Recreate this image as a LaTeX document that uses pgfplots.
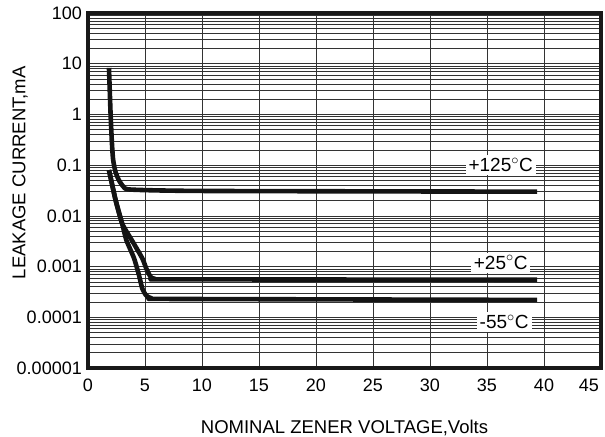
\documentclass[border=0pt]{standalone}
\usepackage{fontspec}
\setmainfont{Liberation Sans}
\usepackage{pgfplots}
\pgfplotsset{compat=1.18}

\begin{document}
\begin{tikzpicture}
\fontsize{18bp}{21bp}\selectfont
\begin{axis}[
    scale only axis,
    width=513bp, height=355bp,
    ymode=log,
    xmin=0, xmax=45,
    ymin=1e-5, ymax=100,
    xtick={0,5,...,45},
    xticklabels={0,5,10,15,20,25,30,35,40,\makebox[0pt][r]{45\hspace{2bp}}},
    ytick={1e-5,1e-4,1e-3,1e-2,1e-1,1,10,100},
    yticklabels={0.00001,0.0001,0.001,0.01,0.1,1,10,100},
    minor ytick={2e-5,3e-5,4e-5,5e-5,6e-5,7e-5,8e-5,9e-5,
                 2e-4,3e-4,4e-4,5e-4,6e-4,7e-4,8e-4,9e-4,
                 2e-3,3e-3,4e-3,5e-3,6e-3,7e-3,8e-3,9e-3,
                 2e-2,3e-2,4e-2,5e-2,6e-2,7e-2,8e-2,9e-2,
                 0.2,0.3,0.4,0.5,0.6,0.7,0.8,0.9,
                 2,3,4,5,6,7,8,9,
                 20,30,40,50,60,70,80,90},
    xmajorgrids, ymajorgrids, yminorgrids,
    major grid style={black!80, line width=0.6bp},
    minor grid style={black!80, line width=0.6bp},
    major tick length=0pt, minor tick length=0pt,
    axis line style={line width=4.2bp, black!90},
    /pgf/number format/assume math mode=true,
    xticklabel style={anchor=center, yshift=-17bp},
    yticklabel style={anchor=east, inner sep=0pt, xshift=-6bp},
    xlabel={NOMINAL ZENER VOLTAGE,Volts},
    ylabel={LEAKAGE CURRENT,mA},
    label style={font=\fontsize{18.5bp}{21bp}\selectfont},
    xlabel style={at={(axis description cs:0.5,0)}, anchor=center, yshift=-60bp},
    ylabel style={at={(axis description cs:0,0.55)}, anchor=center, yshift=68bp},
    every axis plot/.append style={line width=4.6bp, black!92, line join=round},
]

% +125 C
\addplot[smooth, tension=0.35] coordinates {
(1.84,8.3) (1.92,2.5) (1.99,0.9) (2.1,0.27) (2.2,0.13) (2.4,0.075)
(2.7,0.051) (3.1,0.038) (3.75,0.033) (10,0.031) (39.4,0.030)
};

% +25 C
\addplot[smooth, tension=0.3] coordinates {
(1.84,0.08) (2.42,0.0205) (3.0,0.007) (3.83,0.00335) (4.76,0.00146)
(5.11,0.00092) (5.5,0.00062) (5.9,0.00057) (7,0.00056) (39.4,0.00055)
};

% -55 C
\addplot[smooth, tension=0.3] coordinates {
(1.84,0.08) (2.42,0.0205) (3.0,0.007) (3.36,0.00335) (4.04,0.00146)
(4.47,0.00068) (4.76,0.00037) (5.1,0.00027) (5.6,0.000235) (7,0.00023) (39.4,0.00022)
};

\begin{scope}[every node/.style={fill=white, inner sep=3bp, font=\fontsize{19bp}{22bp}\selectfont}]
\node at (axis cs:36.2,0.1) {+125$^{\circ}$C};
\node at (axis cs:36.2,0.0012) {+25$^{\circ}$C};
\node at (axis cs:36.5,0.000081) {-55$^{\circ}$C};
\end{scope}
\end{axis}
\pgfresetboundingbox
\path[use as bounding box] ([xshift=-88bp,yshift=-69bp]current axis.south west)
    rectangle ([xshift=4bp,yshift=13bp]current axis.north east);
\end{tikzpicture}
\end{document}
